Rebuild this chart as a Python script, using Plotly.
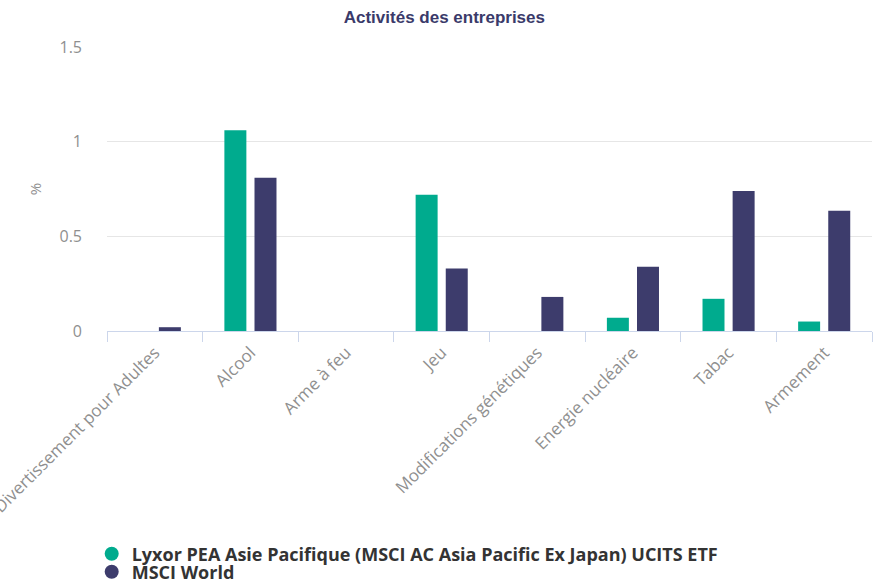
import plotly.graph_objects as go

categories = ["Divertissement pour Adultes", "Alcool", "Arme à feu", "Jeu",
              "Modifications génétiques", "Energie nucléaire", "Tabac", "Armement"]
series_names = ["Lyxor PEA Asie Pacifique (MSCI AC Asia Pacific Ex Japan) UCITS ETF", "MSCI World"]
lyxor_values = [0, 1.06, 0, 0.72, 0, 0.07, 0.17, 0.05]
world_values = [0.02, 0.81, 0, 0.33, 0.18, 0.34, 0.74, 0.635]
colors = ["#00ab8e", "#3d3c6c"]
y_ticks = [0, 0.5, 1, 1.5]
y_tick_labels = ["0", "0.5", "1", "1.5"]

fig = go.Figure()
for name, vals, col in zip(series_names, [lyxor_values, world_values], colors):
    fig.add_trace(go.Bar(x=categories, y=vals, name=name, marker_color=col,
                         marker_line_width=0, showlegend=False))
legend_ids = ["legend", "legend2"]
for name, col, lid in zip(series_names, colors, legend_ids):
    fig.add_trace(go.Scatter(x=[None], y=[None], mode="markers", name=name, legend=lid,
                             marker=dict(color=col, size=14, symbol="circle")))

leg_font = dict(family="Open Sans", size=18, color="#333333", weight="bold")
fig.update_layout(
    width=873, height=586,
    margin=dict(l=107, r=1, t=47, b=255, autoexpand=False),
    paper_bgcolor="white", plot_bgcolor="white",
    title=dict(text="<b>Activités des entreprises</b>", x=0.509, xanchor="center",
               y=1 - 17 / 586, yanchor="middle",
               font=dict(family="Liberation Sans, Arial", size=17, color="#3a3a6a")),
    barmode="group", bargap=0.37, bargroupgap=0.27,
    font=dict(family="Open Sans", color="#888888"),
    legend=dict(x=-0.02, y=(331 - 554) / 284, xanchor="left", yanchor="middle",
                font=leg_font, itemwidth=30, bgcolor="rgba(0,0,0,0)"),
    legend2=dict(x=-0.02, y=(331 - 572) / 284, xanchor="left", yanchor="middle",
                 font=leg_font, itemwidth=30, bgcolor="rgba(0,0,0,0)"),
    showlegend=True,
)
fig.update_xaxes(
    type="category", tickangle=-45, tickson="boundaries", automargin=False,
    ticks="outside", ticklen=10, tickcolor="#ccd6eb", ticklabelstandoff=4,
    showline=True, linecolor="#ccd6eb", linewidth=1,
    showgrid=False, tickfont=dict(size=17, color="#8f8f8f"),
)
fig.update_yaxes(
    range=[0, 1.5], tickvals=y_ticks, ticktext=y_tick_labels, automargin=False,
    showgrid=True, gridcolor="#e6e6e6", zeroline=False,
    tickfont=dict(size=16, color="#8f8f8f"), ticklabelstandoff=24,
    title=dict(text="%", font=dict(size=15, color="#8f8f8f"), standoff=14),
)

fig.write_html("out.html", post_script="document.body.style.margin='0';",
               config={"displayModeBar": False})
